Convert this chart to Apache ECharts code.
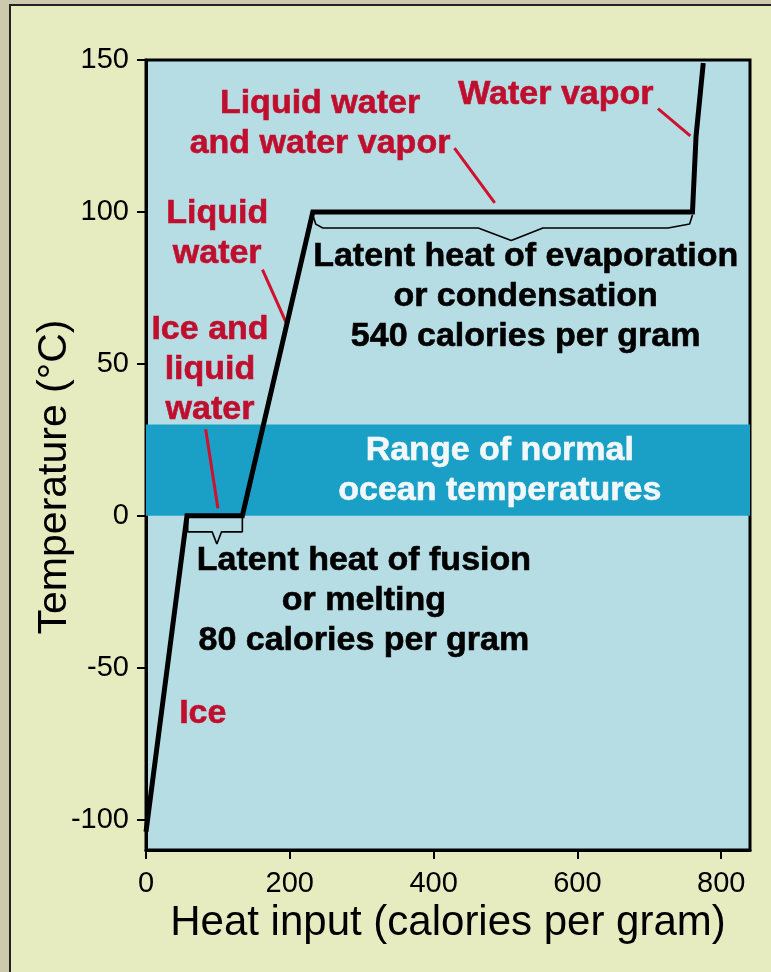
<!DOCTYPE html>
<html>
<head>
<meta charset="utf-8">
<script src="https://cdn.jsdelivr.net/npm/echarts@6/dist/echarts.min.js"></script>
<style>
html,body{margin:0;padding:0;background:#e7ecc0;}
#chart{width:771px;height:972px;}
</style>
</head>
<body>
<div id="chart"></div>
<script>
// ---- data ----
var heatInput = [0, 57, 134, 232, 760, 765, 775];
var temperature = [-104, 0, 0, 100, 100, 125, 149];

var xTicks = [0, 200, 400, 600, 800];
var yTicks = [-100, -50, 0, 50, 100, 150];

var oceanRange = [0, 30];

var fusionBracketX = [58, 58, 92, 98.5, 105, 134, 134];
var fusionBracketY = [0, -5.3, -5.3, -9.3, -5.3, -5.3, 0];

var evapBracketX = [232, 236, 246, 462, 508, 552, 726, 756, 760];
var evapBracketY = [99, 96, 94.7, 94.7, 90.6, 94.7, 94.7, 96, 99];

var pointerWaterVapor = [[712, 134], [757, 125]];
var pointerMixVapor = [[429, 121], [485, 103]];
var pointerLiquid = [[162, 81], [196, 63]];
var pointerIceLiquid = [[83, 28.5], [100, 2.5]];

var redLabels = [
  {text: 'Liquid water\nand water vapor', x: 242, y: 129},
  {text: 'Water vapor', x: 570, y: 138.5},
  {text: 'Liquid\nwater', x: 99, y: 93},
  {text: 'Ice and\nliquid\nwater', x: 89, y: 48},
  {text: 'Ice', x: 79, y: -65}
];
var blackLabels = [
  {text: 'Latent heat of evaporation\nor condensation\n540 calories per gram', x: 528, y: 72},
  {text: 'Latent heat of fusion\nor melting\n80 calories per gram', x: 303, y: -28}
];
var whiteLabels = [
  {text: 'Range of normal\nocean temperatures', x: 492, y: 15}
];

var yTitle = 'Temperature (°C)';
var xTitle = 'Heat input (calories per gram)';

// ---- chart ----
var chart = echarts.init(document.getElementById('chart'), null, {renderer: 'canvas'});
var FONT = 'Liberation Sans, Arial, sans-serif';

function pairs(xs, ys) { return xs.map(function (v, i) { return [v, ys[i]]; }); }
function labelData(arr) { return arr.map(function (d) { return {name: d.text, value: [d.x, d.y]}; }); }
function labelSeries(arr, color) {
  return {
    type: 'scatter', data: labelData(arr), symbolSize: 0, silent: true, z: 10,
    itemStyle: {opacity: 1},
    label: {
      show: true, position: 'inside', formatter: function (p) { return p.name; },
      color: color, fontFamily: FONT, fontWeight: 'bold', fontSize: 34, lineHeight: 40,
      align: 'center', verticalAlign: 'middle', opacity: 1,
      textBorderColor: color, textBorderWidth: 0.6
    }
  };
}
function thinLine(data, color, width) {
  return {
    type: 'line', data: data, symbol: 'none', silent: true, z: 4,
    lineStyle: {color: color, width: width}, animation: false
  };
}

var option = {
  animation: false,
  backgroundColor: '#e7ecc0',
  grid: {
    left: 146, right: 21, top: 60, bottom: 122,
    show: true, backgroundColor: '#b6dce4', borderColor: '#000', borderWidth: 3
  },
  xAxis: {
    type: 'value', min: 0, max: 840,
    name: xTitle, nameLocation: 'middle', nameGap: 50,
    nameTextStyle: {fontFamily: FONT, fontSize: 42, color: '#000'},
    axisLine: {show: true, onZero: false, lineStyle: {color: '#000', width: 3}},
    axisTick: {show: true, length: 9, lineStyle: {color: '#000', width: 2}, customValues: xTicks},
    axisLabel: {fontFamily: FONT, fontSize: 29, color: '#000', margin: 19, customValues: xTicks},
    splitLine: {show: false}
  },
  yAxis: {
    type: 'value', min: -110, max: 150,
    axisLine: {show: true, onZero: false, lineStyle: {color: '#000', width: 3}},
    axisTick: {show: true, length: 9, lineStyle: {color: '#000', width: 2}, customValues: yTicks},
    axisLabel: {fontFamily: FONT, fontSize: 29, color: '#000', margin: 17, customValues: yTicks},
    splitLine: {show: false}
  },
  graphic: [
    {type: 'rect', shape: {x: 0, y: 0, width: 9, height: 972}, style: {fill: '#cdc9ac'}, z: -1},
    {type: 'rect', shape: {x: 0, y: 0, width: 771, height: 4}, style: {fill: '#cdc9ac'}, z: -1},
    {type: 'polyline', shape: {points: [[10, 972], [10, 5], [771, 5]]}, style: {stroke: '#222', lineWidth: 2, fill: null}, z: -1},
    {type: 'text', x: 55, y: 477, rotation: Math.PI / 2,
     style: {text: yTitle, font: '41px ' + FONT, fill: '#000', align: 'center', verticalAlign: 'middle'}}
  ],
  series: [
    {
      type: 'line', data: pairs(heatInput, temperature), symbol: 'none', z: 5,
      lineStyle: {color: '#000', width: 5, join: 'miter'},
      markArea: {
        silent: true,
        itemStyle: {color: '#1a9fc6', opacity: 1},
        data: [[{yAxis: oceanRange[0]}, {yAxis: oceanRange[1]}]]
      }
    },
    thinLine(pairs(fusionBracketX, fusionBracketY), '#000', 1.6),
    thinLine(pairs(evapBracketX, evapBracketY), '#000', 1.6),
    thinLine(pointerWaterVapor, '#d0102c', 3),
    thinLine(pointerMixVapor, '#d0102c', 3),
    thinLine(pointerLiquid, '#d0102c', 3),
    thinLine(pointerIceLiquid, '#d0102c', 3),
    labelSeries(redLabels, '#c00f2e'),
    labelSeries(blackLabels, '#000'),
    labelSeries(whiteLabels, '#f2f8fa')
  ]
};
chart.setOption(option);
</script>
</body>
</html>
